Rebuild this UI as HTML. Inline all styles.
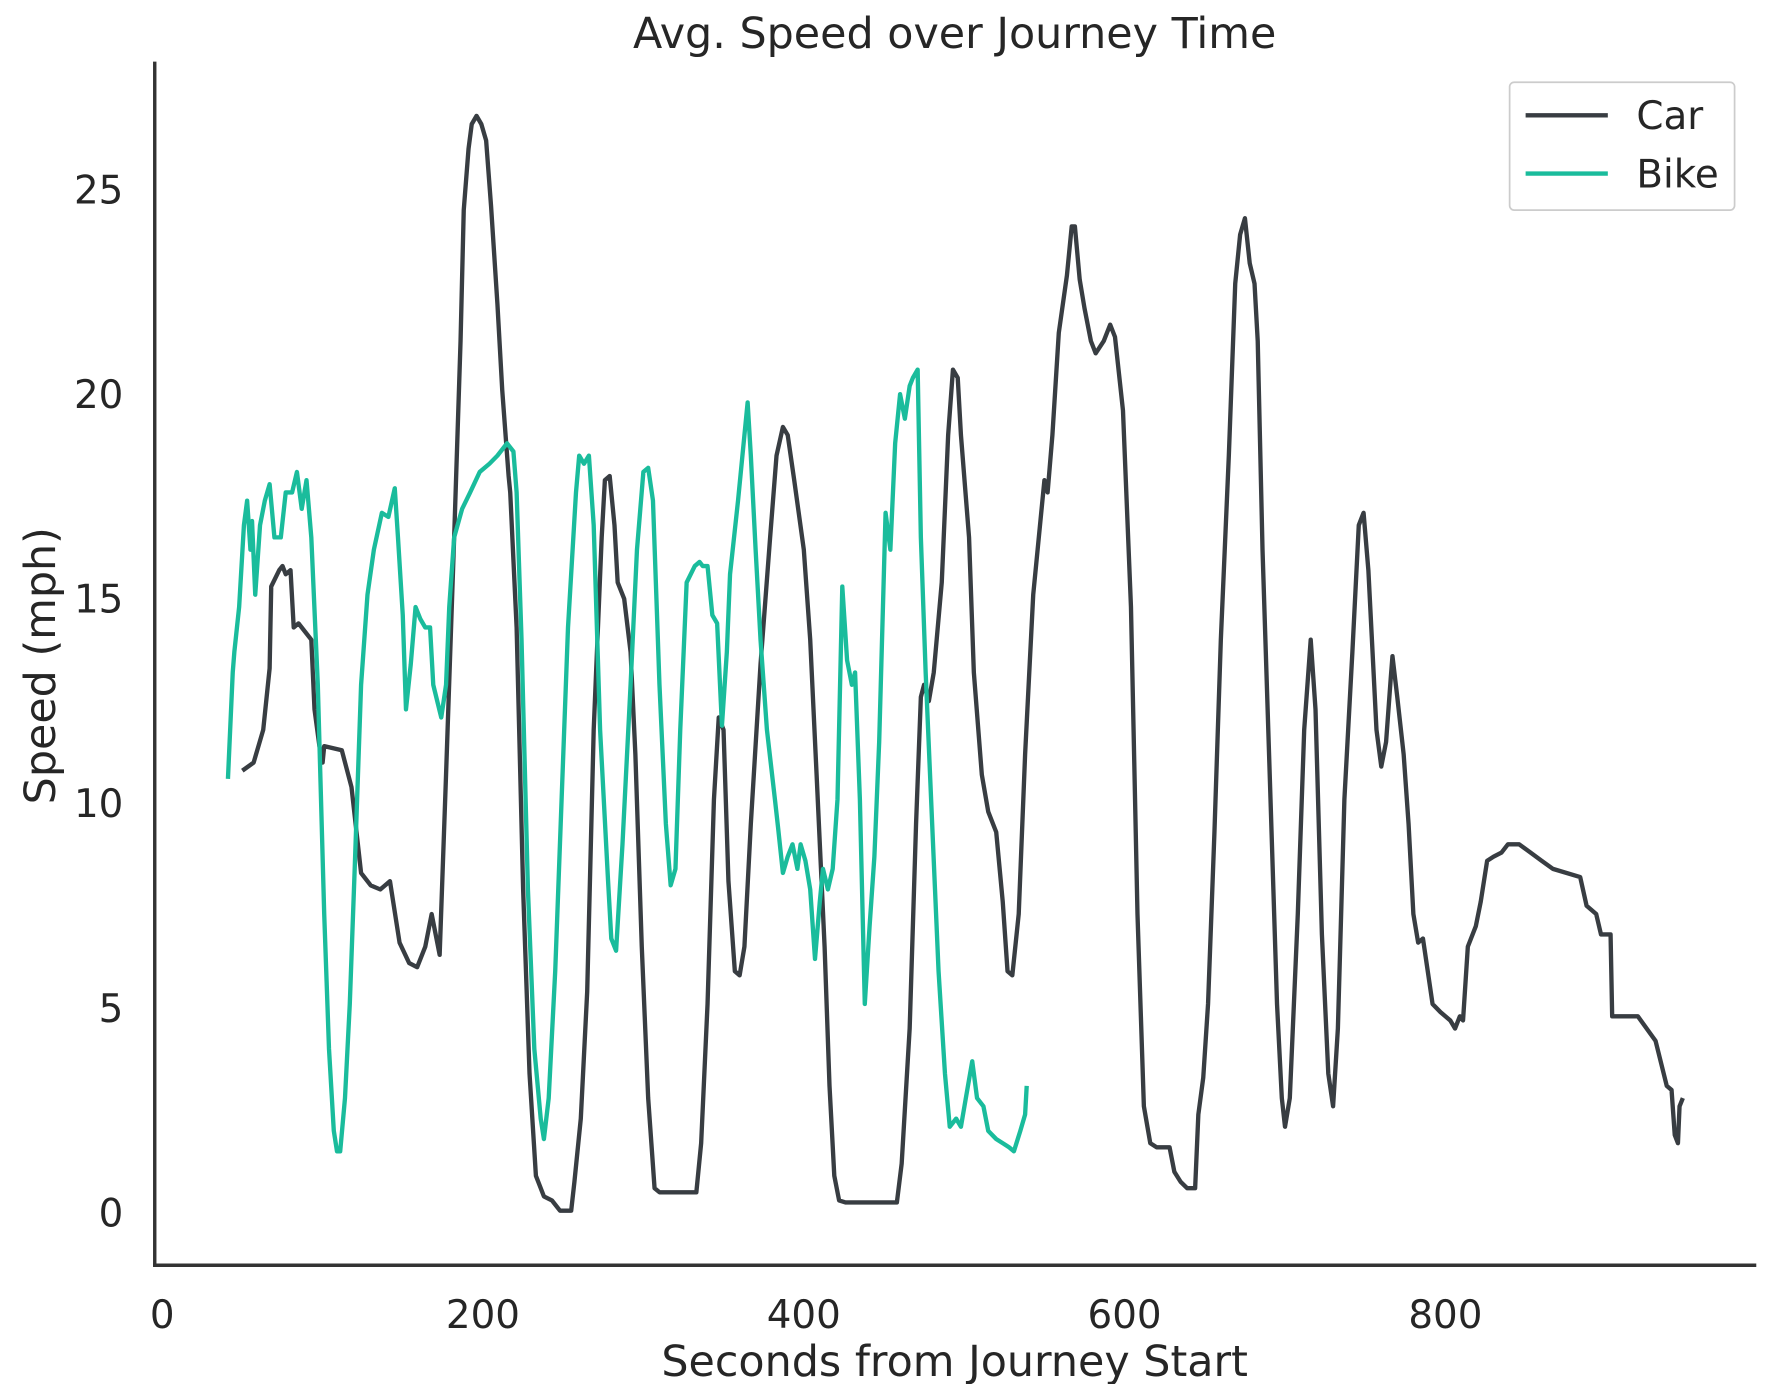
<!DOCTYPE html>
<html><head><meta charset="utf-8"><style>
html,body{margin:0;padding:0;background:#fff;}
svg{display:block;font-family:"DejaVu Sans","Liberation Sans",sans-serif;}
</style></head><body>
<svg id="chart" width="1770" height="1384" viewBox="0 0 1550 1212" xmlns="http://www.w3.org/2000/svg">
<rect width="1550" height="1212" fill="#fff"/>
<text x="836" y="42" font-size="37.5" fill="#262626" text-anchor="middle">Avg. Speed over Journey Time</text>
<g id="xticks"></g>
<g id="yticks"></g>
<g id="series"></g>
<line x1="135.5" y1="54" x2="135.5" y2="1109" stroke="#333" stroke-width="3"/>
<line x1="134" y1="1108" x2="1538" y2="1108" stroke="#333" stroke-width="3"/>
<text x="836" y="1205" font-size="37.5" fill="#262626" text-anchor="middle">Seconds from Journey Start</text>
<text transform="translate(48,583) rotate(-90)" font-size="37.5" fill="#262626" text-anchor="middle">Speed (mph)</text>
<g>
<rect x="1322" y="72" width="197" height="112" rx="4" fill="#fff" stroke="#ccc" stroke-width="1.5"/>
<line x1="1336" y1="101" x2="1408" y2="101" stroke="#383d42" stroke-width="3.8"/>
<text x="1433" y="113" font-size="34" fill="#262626">Car</text>
<line x1="1336" y1="152" x2="1408" y2="152" stroke="#1abc9c" stroke-width="3.8"/>
<text x="1433" y="164" font-size="34" fill="#262626">Bike</text>
</g>
</svg>
<script>
const xTicks=[0,200,400,600,800];
const yTicks=[0,5,10,15,20,25];
const carT=[50,57,63,67,68,73,75,77,80,82,85,93,95,98,100,101,112,118,124,130,136,142,148,154,159,164,168,170,173,177,182,186,188,191,193,196,199,202,205,209,212,216,217,221,225,229,233,238,243,248,255,257,261,265,269,274,276,279,282,284,288,292,295,299,303,307,310,333,336,340,344,347,350,353,357,360,363,367,373,379,383,387,390,394,400,404,408,413,416,419,422,426,458,461,466,470,473,475,478,481,486,490,493,496,498,503,506,511,515,520,524,527,530,534,538,543,548,550,552,555,559,564,567,569,572,575,579,582,587,591,594,599,604,608,612,616,620,628,631,635,639,644,646,649,652,656,660,665,669,672,675,678,681,683,686,691,695,698,700,703,708,712,716,719,723,727,730,733,737,742,746,749,752,755,757,760,763,766,767,770,774,777,780,783,786,789,792,797,803,806,809,811,814,819,822,826,830,835,839,846,853,860,867,884,888,894,897,903,904,920,931,938,941,943,945,946,948];
const carV=[10.8,11.0,11.8,13.3,15.3,15.7,15.8,15.6,15.7,14.3,14.4,14.0,12.3,11.4,11.0,11.4,11.3,10.4,8.3,8.0,7.9,8.1,6.6,6.1,6.0,6.5,7.3,6.9,6.3,10.7,16.5,21.3,24.5,26.0,26.6,26.8,26.6,26.2,24.6,22.2,20.1,18.0,17.6,14.3,7.9,3.4,0.9,0.4,0.3,0.05,0.05,0.75,2.3,5.4,11.8,16.5,17.9,18.0,16.8,15.4,15.0,13.7,11.2,6.5,2.8,0.6,0.5,0.5,1.7,5.1,10.1,12.1,11.8,8.1,5.9,5.8,6.5,9.5,13.4,16.5,18.5,19.2,19.0,17.9,16.2,14.0,10.7,6.5,3.1,0.9,0.3,0.25,0.25,1.2,4.5,9.5,12.6,12.9,12.5,13.2,15.4,19.0,20.6,20.4,19.0,16.5,13.2,10.7,9.8,9.3,7.6,5.9,5.8,7.3,11.2,15.1,17.1,17.9,17.6,19.0,21.5,22.9,24.1,24.1,22.8,22.1,21.3,21.0,21.3,21.7,21.4,19.6,14.8,7.3,2.6,1.7,1.6,1.6,1.0,0.75,0.6,0.6,2.4,3.3,5.1,9.3,14.0,18.5,22.7,23.9,24.3,23.2,22.7,21.3,16.2,10.1,5.1,2.8,2.1,2.8,7.3,11.8,14.0,12.3,6.8,3.4,2.6,4.5,10.1,13.7,16.8,17.1,15.7,13.4,11.8,10.9,11.5,13.1,13.6,12.6,11.2,9.5,7.3,6.6,6.7,5.9,5.1,4.9,4.7,4.5,4.8,4.7,6.5,7.0,7.6,8.6,8.7,8.8,9.0,9.0,8.8,8.6,8.4,8.2,7.5,7.3,6.8,6.8,4.8,4.8,4.2,3.1,3.0,1.9,1.7,2.6,2.8];
const bikeT=[41,44,45,48,51,53,55,56,58,61,64,67,70,74,77,81,84,87,90,93,97,101,104,107,109,111,114,117,120,124,128,132,137,141,145,147,150,152,155,158,161,164,167,169,174,177,179,182,187,192,198,204,209,215,219,221,224,228,232,236,238,241,245,249,253,258,260,263,266,269,273,278,280,283,287,292,296,300,303,306,310,314,317,320,323,327,332,335,337,340,343,346,349,352,354,359,363,365,367,370,373,377,382,384,387,390,393,396,398,401,404,407,410,412,415,418,421,424,427,430,432,435,438,441,444,447,451,454,457,460,463,466,468,471,473,476,480,484,488,491,495,498,501,505,508,512,515,520,524,528,531,535,538,539];
const bikeV=[10.6,13.2,13.7,14.8,16.8,17.4,16.2,16.9,15.1,16.8,17.4,17.8,16.5,16.5,17.6,17.6,18.1,17.2,17.9,16.5,12.9,7.3,4.0,2.0,1.5,1.5,2.8,5.1,8.4,12.9,15.1,16.2,17.1,17.0,17.7,16.5,14.6,12.3,13.4,14.8,14.5,14.3,14.3,12.9,12.1,12.9,14.8,16.5,17.2,17.6,18.1,18.3,18.5,18.8,18.6,17.6,14.0,7.9,4.0,2.3,1.8,2.8,5.9,10.1,14.3,17.6,18.5,18.3,18.5,16.8,11.8,8.1,6.7,6.4,9.0,12.9,16.2,18.1,18.2,17.4,12.9,9.5,8.0,8.4,11.8,15.4,15.8,15.9,15.8,15.8,14.6,14.4,11.9,13.7,15.6,17.4,19.0,19.8,18.5,16.2,14.0,11.8,10.1,9.4,8.3,8.7,9.0,8.4,9.0,8.6,7.9,6.2,7.6,8.4,7.9,8.4,10.1,15.3,13.5,12.9,13.2,10.1,5.1,7.0,8.7,11.5,17.1,16.2,18.8,20.0,19.4,20.2,20.4,20.6,16.5,13.2,9.5,5.9,3.4,2.1,2.3,2.1,2.8,3.7,2.8,2.6,2.0,1.8,1.7,1.6,1.5,2.0,2.4,3.1];

const sx=v=>142+v*1.4047;
const sy=v=>1062-v*35.84;
const NS='http://www.w3.org/2000/svg';
const xg=document.getElementById('xticks'), yg=document.getElementById('yticks'), sg=document.getElementById('series');
xTicks.forEach(t=>{
  const el=document.createElementNS(NS,'text');
  
  
  el.setAttribute('x',sx(t));el.setAttribute('y',1163);
  el.setAttribute('font-size','34');el.setAttribute('fill','#262626');el.setAttribute('text-anchor','middle');
  el.textContent=t;xg.appendChild(el);
});
yTicks.forEach(t=>{
  const el=document.createElementNS(NS,'text');
  
  
  el.setAttribute('x',108);el.setAttribute('y',sy(t)+12);
  el.setAttribute('font-size','34');el.setAttribute('fill','#262626');el.setAttribute('text-anchor','end');
  el.textContent=t;yg.appendChild(el);
});
function line(T,V,color,name){
  const p=document.createElementNS(NS,'polyline');
  
  
  p.setAttribute('points',T.map((t,i)=>sx(t).toFixed(1)+','+sy(V[i]).toFixed(1)).join(' '));
  p.setAttribute('fill','none');p.setAttribute('stroke',color);p.setAttribute('stroke-width','3.8');
  p.setAttribute('stroke-linejoin','round');
  sg.appendChild(p);
}
line(carT,carV,'#383d42','car-line');
line(bikeT,bikeV,'#1abc9c','bike-line');
</script>
</body></html>
